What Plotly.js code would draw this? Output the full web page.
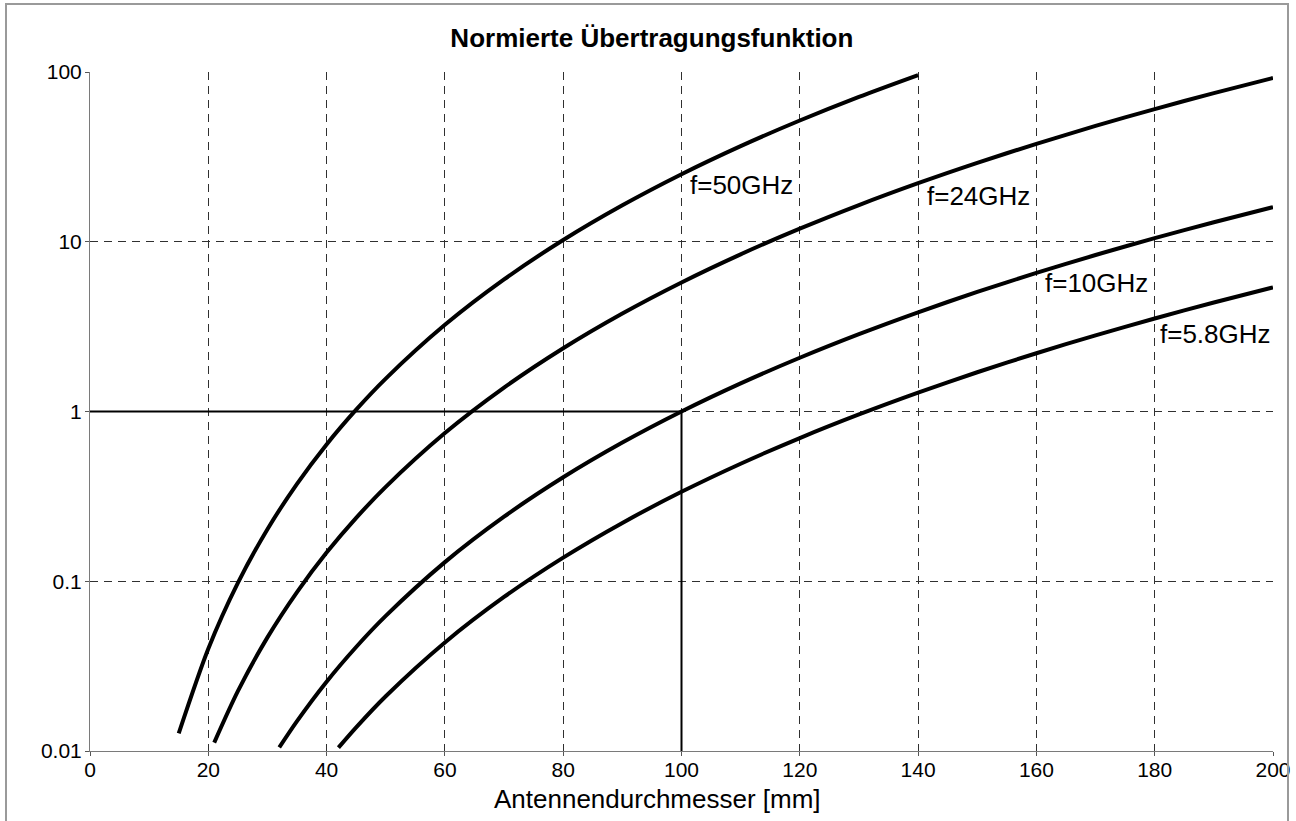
<!DOCTYPE html>
<html>
<head>
<meta charset="utf-8">
<script src="https://cdn.plot.ly/plotly-3.0.1.min.js"></script>
<style>
  html, body { margin: 0; padding: 0; background: #fff; }
  #wrap { position: relative; width: 1296px; height: 821px; }
  #chart { position: absolute; left: 0; top: 0; width: 1296px; height: 821px; }
  #frame { position: absolute; left: 5px; top: 3px; width: 1284px; height: 840px;
           border: 2px solid #9a9a9a; pointer-events: none; box-sizing: border-box; }
</style>
</head>
<body>
<div id="wrap">
  <div id="chart"></div>
  <div id="frame"></div>
</div>
<script>
// Antenna diameter [mm] and normalized transfer function values
const d50 = [15, 20, 25, 30, 35, 40, 45, 50, 60, 70, 80, 90, 100, 110, 120, 130, 140];
const v50 = [0.0127, 0.040, 0.0977, 0.2025, 0.375, 0.64, 1.025, 1.5625, 3.24, 6.0, 10.24, 16.4, 25.0, 36.6, 51.8, 71.4, 96.0];

const d24 = [21, 25, 30, 35, 40, 45, 50, 60, 70, 80, 90, 100, 110, 120, 130, 140, 150, 160, 170, 180, 190, 200];
const v24 = [0.0112, 0.0225, 0.0467, 0.0864, 0.1475, 0.2362, 0.36, 0.7465, 1.383, 2.359, 3.779, 5.76, 8.433, 11.94, 16.45, 22.13, 29.16, 37.75, 48.11, 60.47, 75.07, 92.16];

const d10 = [32, 35, 40, 45, 50, 60, 70, 80, 90, 100, 110, 120, 130, 140, 150, 160, 170, 180, 190, 200];
const v10 = [0.0105, 0.0150, 0.0256, 0.0410, 0.0625, 0.1296, 0.2401, 0.4096, 0.6561, 1.0, 1.4641, 2.0736, 2.8561, 3.8416, 5.0625, 6.5536, 8.3521, 10.4976, 13.0321, 16.0];

const d58 = [42, 45, 50, 60, 70, 80, 90, 100, 110, 120, 130, 140, 150, 160, 170, 180, 190, 200];
const v58 = [0.01047, 0.01379, 0.02103, 0.0436, 0.0808, 0.1378, 0.2207, 0.3364, 0.4925, 0.6976, 0.9608, 1.2923, 1.703, 2.2046, 2.8097, 3.5314, 4.384, 5.382];

// reference marker line (D = 100 mm, value 1)
const refX = [0, 100, 100];
const refY = [1, 1, 0.01];

// curve labels
const labelText = ["f=50GHz", "f=24GHz", "f=10GHz", "f=5.8GHz"];
const labelX = [101.2, 141.3, 161.3, 180.7];
const labelY = [21.6, 18.6, 5.71, 2.86];

const xTicks = [0, 20, 40, 60, 80, 100, 120, 140, 160, 180, 200];
const yTicks = [0.01, 0.1, 1, 10, 100];
const yTickText = ["0.01", "0.1", "1", "10", "100"];

const FONT = "'Liberation Sans', Arial, Helvetica, sans-serif";

function curve(x, y) {
  return { x: x, y: y, type: 'scatter', mode: 'lines',
           line: { color: '#000', width: 4, shape: 'spline', smoothing: 0.8 },
           hoverinfo: 'skip', showlegend: false };
}

const traces = [
  { x: refX, y: refY, type: 'scatter', mode: 'lines',
    line: { color: '#000', width: 2 }, hoverinfo: 'skip', showlegend: false },
  curve(d50, v50), curve(d24, v24), curve(d10, v10), curve(d58, v58)
];

const annotations = labelText.map((t, i) => ({
  x: labelX[i], y: Math.log10(labelY[i]), xref: 'x', yref: 'y',
  text: t, showarrow: false, xanchor: 'left', yanchor: 'middle',
  font: { family: FONT, size: 26, color: '#000' }, borderpad: 0
}));
annotations.push({
  x: 0.48, y: -0.07, xref: 'paper', yref: 'paper', text: 'Antennendurchmesser [mm]',
  showarrow: false, xanchor: 'center', yanchor: 'middle',
  font: { family: FONT, size: 26, color: '#000' }
});

const layout = {
  width: 1296, height: 821,
  margin: { l: 90, r: 23, t: 72, b: 70 },
  paper_bgcolor: '#fff', plot_bgcolor: '#fff',
  font: { family: FONT, size: 21, color: '#000' },
  title: { text: '<b>Normierte Übertragungsfunktion</b>', x: 0.503, xref: 'container',
           y: 0.954, yref: 'container', xanchor: 'center', yanchor: 'middle',
           font: { family: FONT, size: 26, color: '#000' } },
  xaxis: {
    range: [0, 200], tickvals: xTicks, ticktext: xTicks.map(String),
    showline: true, linecolor: '#7a7a7a', linewidth: 1,
    showgrid: true, gridcolor: '#303030', gridwidth: 1, griddash: '8px,6px',
    zeroline: false, ticks: 'outside', ticklen: 4, tickcolor: '#555',
    ticklabelstandoff: -4,
    tickfont: { family: FONT, size: 21, color: '#000' }, fixedrange: true
  },
  yaxis: {
    type: 'log', range: [-2, 2], tickvals: yTicks, ticktext: yTickText,
    showline: true, linecolor: '#7a7a7a', linewidth: 1,
    showgrid: true, gridcolor: '#303030', gridwidth: 1, griddash: '8px,6px',
    zeroline: false, ticks: 'outside', ticklen: 4, tickcolor: '#555',
    ticklabelstandoff: -1,
    tickfont: { family: FONT, size: 21, color: '#000' }, fixedrange: true
  },
  annotations: annotations,
  showlegend: false
};

Plotly.newPlot('chart', traces, layout, { staticPlot: true, displayModeBar: false });
</script>
</body>
</html>
